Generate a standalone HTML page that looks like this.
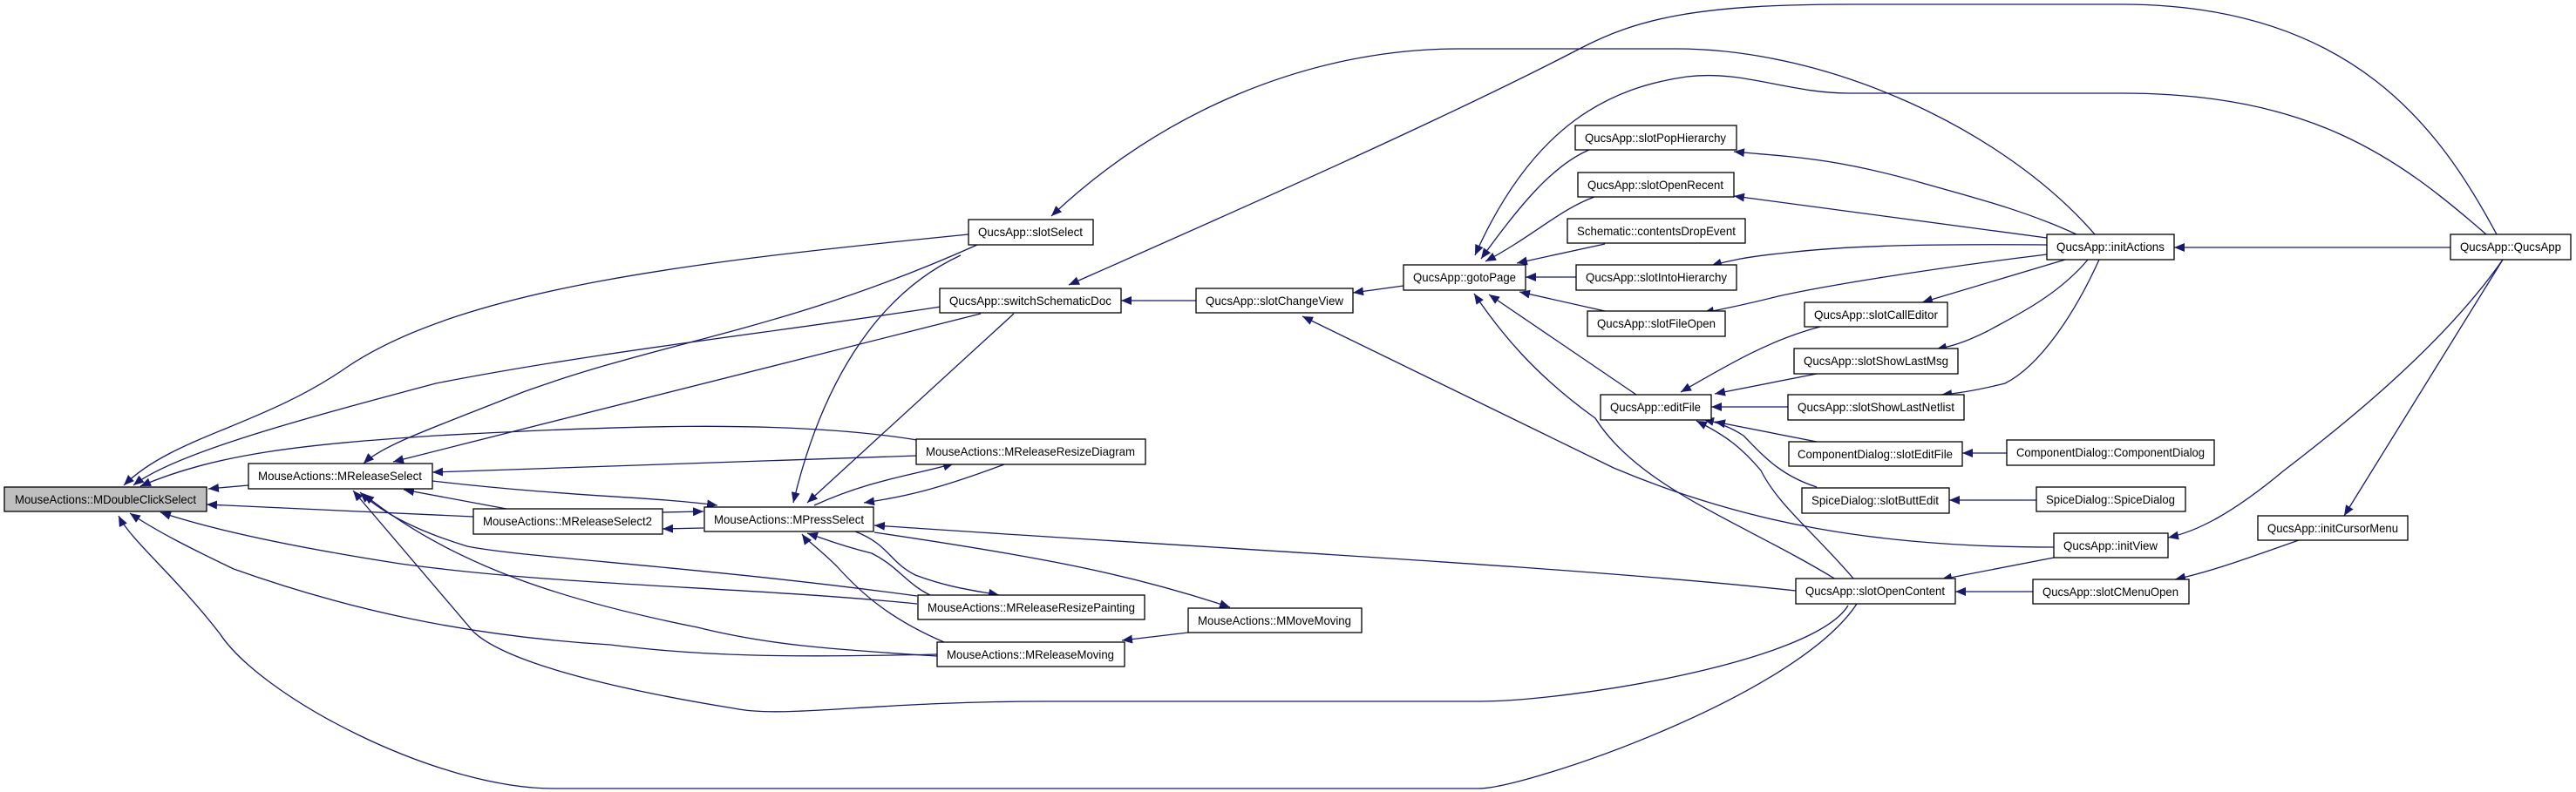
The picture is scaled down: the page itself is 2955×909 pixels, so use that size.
<!DOCTYPE html>
<html><head><meta charset="utf-8"><style>
html,body{margin:0;padding:0;background:#fff;}
svg{display:block;}
text{font-family:"Liberation Sans",sans-serif;font-size:14px;fill:#000;}
.e{fill:none;stroke:#191970;stroke-width:1.3;marker-end:url(#a);}
.b{fill:#fff;stroke:#000;stroke-width:1.3;}
</style></head><body>
<svg width="2955" height="909" viewBox="0 0 2955 909" xmlns="http://www.w3.org/2000/svg">
<defs><marker id="a" markerUnits="userSpaceOnUse" markerWidth="14" markerHeight="12" refX="12" refY="5" orient="auto"><path d="M0,0 L12,5 L0,10 Z" fill="#191970"/></marker></defs>
<path class="e" d="M1111,269 C800,300 536,330 400,420 C300,490 200,500 142,557"/>
<path class="e" d="M1079,352 C900,380 689,403 500,440 C350,480 200,520 153,557"/>
<path class="e" d="M1052,505 C900,480 689,490 500,500 C350,510 250,520 161,558"/>
<path class="e" d="M285,557 L239,561"/>
<path class="e" d="M543,593 L237,579"/>
<path class="e" d="M1052,693 C850,673 650,673 459,647 C350,630 250,610 184,588"/>
<path class="e" d="M1075,751 C900,755 803,753 700,740 C536,730 400,700 268,653 C220,630 180,610 149,589"/>
<path class="e" d="M2130,693 C2060,800 1750,905 1696,905 L635,905 C500,905 300,800 252,727 C200,660 150,620 136,592"/>
<path class="e" d="M1121,281 C900,380 765,390 600,450 C500,490 440,510 417,532"/>
<path class="e" d="M1125,360 L451,530"/>
<path class="e" d="M1052,523 L496,542"/>
<path class="e" d="M581,584 L463,562"/>
<path class="e" d="M1052,684 C800,650 600,640 536,627 C480,610 440,590 413,565"/>
<path class="e" d="M1075,753 C950,745 880,740 800,720 C650,690 520,650 417,567"/>
<path class="e" d="M2120,695 C2080,760 1800,805 1696,805 L1200,805 C1000,805 900,825 842,813 C700,790 580,760 543,725 L405,563"/>
<path class="e" d="M496,552 C650,570 750,570 823,580"/>
<path class="e" d="M1102,293 C1000,340 940,450 910,577"/>
<path class="e" d="M1163,360 L926,577"/>
<path class="e" d="M934,580 C1000,550 1050,545 1094,532"/>
<path class="e" d="M1152,533 C1080,560 1040,570 991,577"/>
<path class="e" d="M760,588 L807,587"/>
<path class="e" d="M807,606 L760,607"/>
<path class="e" d="M1067,683 C1040,670 1030,650 1000,635 C960,625 945,618 926,612"/>
<path class="e" d="M981,610 C1020,625 1020,645 1050,660 C1090,675 1120,678 1146,683"/>
<path class="e" d="M1083,737 C1020,710 987,680 960,650 C940,630 925,620 920,613"/>
<path class="e" d="M1003,611 C1200,640 1300,660 1411,697"/>
<path class="e" d="M1363,726 L1287,735"/>
<path class="e" d="M2060,678 C1800,650 1400,630 1003,603"/>
<path class="e" d="M1372,345 L1286,345"/>
<path class="e" d="M1610,328 L1552,336"/>
<path class="e" d="M2356,628 C2150,628 2000,600 1851,537 L1494,363"/>
<path class="e" d="M2864,269 C2800,150 2700,5 2434,5 L2122,5 C1950,5 1880,20 1810,57 C1650,140 1400,250 1226,327"/>
<path class="e" d="M2403,269 C2300,150 2100,56 1923,56 L1673,56 C1500,56 1330,130 1206,248"/>
<path class="e" d="M2852,269 C2750,180 2650,107 2434,107 L2122,107 C2050,107 2000,80 1935,88 C1850,100 1760,140 1692,293"/>
<path class="e" d="M1823,172 C1780,190 1740,240 1699,297"/>
<path class="e" d="M1829,226 C1790,240 1760,270 1704,300"/>
<path class="e" d="M1841,280 L1740,302"/>
<path class="e" d="M1808,318 L1750,318"/>
<path class="e" d="M1841,357 L1743,335"/>
<path class="e" d="M1877,453 L1708,338"/>
<path class="e" d="M2106,665 C2000,600 1880,560 1830,480 C1760,430 1720,380 1691,337"/>
<path class="e" d="M2127,665 C2080,610 2040,580 2020,540 C1998,514 1980,500 1946,483"/>
<path class="e" d="M2084,559 C2040,545 2020,520 2000,500 C1985,490 1970,485 1954,481"/>
<path class="e" d="M2088,375 C2030,390 1980,420 1928,450"/>
<path class="e" d="M2084,429 L1967,452"/>
<path class="e" d="M2051,467 L1963,467"/>
<path class="e" d="M2084,507 L1967,484"/>
<path class="e" d="M2302,520 L2251,520"/>
<path class="e" d="M2336,574 L2236,574"/>
<path class="e" d="M2811,284 L2494,284"/>
<path class="e" d="M2382,269 C2320,240 2250,223 2205,210 C2100,180 2050,180 1989,174"/>
<path class="e" d="M2348,273 L1989,225"/>
<path class="e" d="M2348,281 C2200,280 2119,282 2050,290 C2000,295 1980,300 1963,305"/>
<path class="e" d="M2348,292 C2200,310 2084,330 2040,340 C2000,350 1975,355 1954,359"/>
<path class="e" d="M2369,298 L2205,347"/>
<path class="e" d="M2395,298 C2360,340 2309,364 2280,380 C2250,395 2235,398 2221,401"/>
<path class="e" d="M2408,298 C2380,360 2340,420 2300,440 C2260,450 2240,452 2227,453"/>
<path class="e" d="M2871,298 C2800,400 2680,494 2620,540 C2560,590 2520,610 2487,617"/>
<path class="e" d="M2871,298 L2689,592"/>
<path class="e" d="M2637,620 C2580,640 2540,655 2495,665"/>
<path class="e" d="M2356,640 L2227,665"/>
<path class="e" d="M2332,679 L2243,679"/>
<g>
<rect x="5" y="559" width="232" height="28" fill="#bfbfbf" stroke="#000" stroke-width="1.3"/>
<text x="121" y="578" text-anchor="middle" textLength="208" lengthAdjust="spacingAndGlyphs">MouseActions::MDoubleClickSelect</text>
<rect class="b" x="285" y="532" width="211" height="29"/><text x="390" y="551" text-anchor="middle" textLength="188" lengthAdjust="spacingAndGlyphs">MouseActions::MReleaseSelect</text>
<rect class="b" x="543" y="584" width="217" height="29"/><text x="651" y="603" text-anchor="middle" textLength="194" lengthAdjust="spacingAndGlyphs">MouseActions::MReleaseSelect2</text>
<rect class="b" x="808" y="582" width="194" height="28"/><text x="905" y="601" text-anchor="middle" textLength="172" lengthAdjust="spacingAndGlyphs">MouseActions::MPressSelect</text>
<rect class="b" x="1111" y="252" width="143" height="29"/><text x="1182" y="271" text-anchor="middle" textLength="120" lengthAdjust="spacingAndGlyphs">QucsApp::slotSelect</text>
<rect class="b" x="1078" y="331" width="208" height="28"/><text x="1182" y="350" text-anchor="middle" textLength="186" lengthAdjust="spacingAndGlyphs">QucsApp::switchSchematicDoc</text>
<rect class="b" x="1051" y="504" width="263" height="29"/><text x="1182" y="523" text-anchor="middle" textLength="240" lengthAdjust="spacingAndGlyphs">MouseActions::MReleaseResizeDiagram</text>
<rect class="b" x="1053" y="683" width="260" height="28"/><text x="1183" y="702" text-anchor="middle" textLength="238" lengthAdjust="spacingAndGlyphs">MouseActions::MReleaseResizePainting</text>
<rect class="b" x="1363" y="698" width="199" height="28"/><text x="1462" y="717" text-anchor="middle" textLength="176" lengthAdjust="spacingAndGlyphs">MouseActions::MMoveMoving</text>
<rect class="b" x="1075" y="737" width="215" height="28"/><text x="1182" y="756" text-anchor="middle" textLength="192" lengthAdjust="spacingAndGlyphs">MouseActions::MReleaseMoving</text>
<rect class="b" x="1372" y="331" width="180" height="28"/><text x="1462" y="350" text-anchor="middle" textLength="158" lengthAdjust="spacingAndGlyphs">QucsApp::slotChangeView</text>
<rect class="b" x="1610" y="304" width="140" height="29"/><text x="1680" y="323" text-anchor="middle" textLength="118" lengthAdjust="spacingAndGlyphs">QucsApp::gotoPage</text>
<rect class="b" x="1807" y="144" width="185" height="28"/><text x="1899" y="163" text-anchor="middle" textLength="162" lengthAdjust="spacingAndGlyphs">QucsApp::slotPopHierarchy</text>
<rect class="b" x="1810" y="198" width="179" height="28"/><text x="1899" y="217" text-anchor="middle" textLength="156" lengthAdjust="spacingAndGlyphs">QucsApp::slotOpenRecent</text>
<rect class="b" x="1798" y="251" width="204" height="28"/><text x="1900" y="270" text-anchor="middle" textLength="182" lengthAdjust="spacingAndGlyphs">Schematic::contentsDropEvent</text>
<rect class="b" x="1808" y="304" width="184" height="29"/><text x="1900" y="323" text-anchor="middle" textLength="162" lengthAdjust="spacingAndGlyphs">QucsApp::slotIntoHierarchy</text>
<rect class="b" x="1821" y="357" width="158" height="29"/><text x="1900" y="376" text-anchor="middle" textLength="136" lengthAdjust="spacingAndGlyphs">QucsApp::slotFileOpen</text>
<rect class="b" x="1836" y="453" width="127" height="29"/><text x="1899" y="472" text-anchor="middle" textLength="104" lengthAdjust="spacingAndGlyphs">QucsApp::editFile</text>
<rect class="b" x="2070" y="347" width="164" height="28"/><text x="2152" y="366" text-anchor="middle" textLength="142" lengthAdjust="spacingAndGlyphs">QucsApp::slotCallEditor</text>
<rect class="b" x="2058" y="400" width="188" height="29"/><text x="2152" y="419" text-anchor="middle" textLength="166" lengthAdjust="spacingAndGlyphs">QucsApp::slotShowLastMsg</text>
<rect class="b" x="2051" y="453" width="202" height="29"/><text x="2152" y="472" text-anchor="middle" textLength="180" lengthAdjust="spacingAndGlyphs">QucsApp::slotShowLastNetlist</text>
<rect class="b" x="2052" y="507" width="199" height="28"/><text x="2151" y="526" text-anchor="middle" textLength="178" lengthAdjust="spacingAndGlyphs">ComponentDialog::slotEditFile</text>
<rect class="b" x="2302" y="505" width="238" height="29"/><text x="2421" y="524" text-anchor="middle" textLength="216" lengthAdjust="spacingAndGlyphs">ComponentDialog::ComponentDialog</text>
<rect class="b" x="2067" y="560" width="169" height="29"/><text x="2151" y="579" text-anchor="middle" textLength="146" lengthAdjust="spacingAndGlyphs">SpiceDialog::slotButtEdit</text>
<rect class="b" x="2336" y="559" width="171" height="28"/><text x="2421" y="578" text-anchor="middle" textLength="148" lengthAdjust="spacingAndGlyphs">SpiceDialog::SpiceDialog</text>
<rect class="b" x="2348" y="269" width="146" height="29"/><text x="2421" y="288" text-anchor="middle" textLength="124" lengthAdjust="spacingAndGlyphs">QucsApp::initActions</text>
<rect class="b" x="2811" y="269" width="138" height="29"/><text x="2880" y="288" text-anchor="middle" textLength="116" lengthAdjust="spacingAndGlyphs">QucsApp::QucsApp</text>
<rect class="b" x="2590" y="592" width="172" height="28"/><text x="2676" y="611" text-anchor="middle" textLength="150" lengthAdjust="spacingAndGlyphs">QucsApp::initCursorMenu</text>
<rect class="b" x="2356" y="612" width="131" height="28"/><text x="2421" y="631" text-anchor="middle" textLength="108" lengthAdjust="spacingAndGlyphs">QucsApp::initView</text>
<rect class="b" x="2060" y="664" width="183" height="29"/><text x="2151" y="683" text-anchor="middle" textLength="160" lengthAdjust="spacingAndGlyphs">QucsApp::slotOpenContent</text>
<rect class="b" x="2332" y="665" width="179" height="28"/><text x="2421" y="684" text-anchor="middle" textLength="156" lengthAdjust="spacingAndGlyphs">QucsApp::slotCMenuOpen</text>
</g>
</svg>
</body></html>
